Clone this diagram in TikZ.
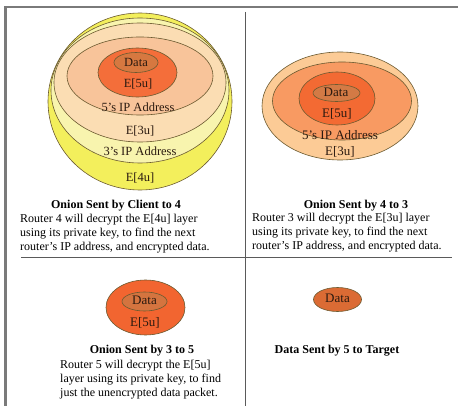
\documentclass[tikz,border=0pt]{standalone}
\usepackage{fontspec}
\setmainfont{Liberation Serif}
\usetikzlibrary{shapes.geometric}
\definecolor{framegray}{HTML}{7A7A7A}
\definecolor{divgray}{HTML}{5A5A5A}
\definecolor{rimcol}{HTML}{6B5A30}
\definecolor{yelA}{HTML}{F3EF5C}
\definecolor{yelB}{HTML}{F8F4AE}
\definecolor{creamC}{HTML}{FBDDB3}
\definecolor{peachD}{HTML}{F8C49A}
\definecolor{orangeE}{HTML}{F46E3A}
\definecolor{dataF}{HTML}{D67840}
\definecolor{rPeach}{HTML}{FCCB96}
\definecolor{rSalmon}{HTML}{F89A62}
\definecolor{rOrange}{HTML}{F36A33}
\definecolor{rData}{HTML}{D37A45}
\definecolor{bOrange}{HTML}{F26530}
\definecolor{bData}{HTML}{D4743F}
\definecolor{tData}{HTML}{DB6B34}
\definecolor{labcol}{HTML}{2B1A10}
\begin{document}
\begin{tikzpicture}[x=1pt,y=-1pt,
  layer/.style={ellipse,draw=rimcol,line width=0.6pt,inner sep=0pt},
  lab/.style={inner sep=0pt,text=labcol,font=\fontsize{12.5}{14}\selectfont},
  rlab/.style={inner sep=0pt,text=labcol,font=\fontsize{13}{14}\selectfont},
  ttl/.style={inner sep=0pt,anchor=base,font=\bfseries\fontsize{12}{14}\selectfont},
  body/.style={inner sep=0pt,anchor=north west,align=left,font=\fontsize{12}{14}\selectfont},
  frameline/.style={draw=framegray,line width=2.2pt},
  divline/.style={draw=divgray,line width=1pt}]
\useasboundingbox (0,0) rectangle (458,406);
% frame and dividers
\coordinate (ftl) at (5.5,7);
\coordinate (ftr) at (458,7);
\coordinate (fbl) at (5.5,406);
\coordinate (vt) at (245,12);
\coordinate (vb) at (245,406);
\coordinate (hl) at (21,257.5);
\coordinate (hr) at (452,257.5);
\draw[frameline] (fbl) -- (ftl) -- (ftr);
\draw[divline] (vt) -- (vb);
\draw[divline] (hl) -- (hr);
% left onion
\node[layer,fill=yelA,minimum width=184pt,minimum height=177pt] (L4) at (140,101.5) {};
\node[layer,fill=yelB,minimum width=178pt,minimum height=145pt] (L3ip) at (140,90.5) {};
\node[layer,fill=creamC,minimum width=172pt,minimum height=119pt] (L3) at (140,82.5) {};
\node[layer,fill=peachD,minimum width=146pt,minimum height=78pt] (L5ip) at (140,76) {};
\node[layer,fill=orangeE,minimum width=79pt,minimum height=49pt] (L5) at (137.5,72.5) {};
\node[layer,fill=dataF,minimum width=44pt,minimum height=20pt] (Ld) at (136,62.5) {};
\node[lab] (Ldt) at (136,62) {Data};
\node[lab] (L5t) at (138,84) {E[5u]};
\node[lab] (L5ipt) at (138,107) {5's IP Address};
\node[lab] (L3t) at (140,131) {E[3u]};
\node[lab] (L3ipt) at (140,151) {3's IP Address};
\node[lab] (L4t) at (140,178) {E[4u]};
% right onion
\node[layer,fill=rPeach,minimum width=156pt,minimum height=108pt] (R3) at (340,106) {};
\node[layer,fill=rSalmon,minimum width=139pt,minimum height=78pt] (R5ip) at (342,101) {};
\node[layer,fill=rOrange,minimum width=76pt,minimum height=53pt] (R5) at (337,98.5) {};
\node[layer,fill=rData,minimum width=47pt,minimum height=17pt] (Rd) at (336.5,93) {};
\node[rlab] (Rdt) at (336,92) {Data};
\node[rlab] (R5t) at (337,114) {E[5u]};
\node[rlab] (R5ipt) at (340,135.5) {5's IP Address};
\node[rlab] (R3t) at (340,152) {E[3u]};
% bottom left onion
\node[layer,fill=bOrange,minimum width=79pt,minimum height=55pt] (B5) at (145.5,307.5) {};
\node[layer,fill=bData,minimum width=45pt,minimum height=19pt] (Bd) at (144.5,301.5) {};
\node[rlab] (Bdt) at (144.5,300) {Data};
\node[rlab] (B5t) at (145,323) {E[5u]};
% bottom right data
\node[layer,fill=tData,minimum width=48pt,minimum height=24pt] (Td) at (337.5,299.5) {};
\node[rlab] (Tdt) at (337.5,298.5) {Data};
% texts
\node[ttl] (t1) at (116,208.5) {Onion Sent by Client to 4};
\node[body] (b1) at (20,213.8) {Router 4 will decrypt the E[4u] layer\\using its private key, to find the next\\router's IP address, and encrypted data.};
\node[ttl] (t2) at (356,208.5) {Onion Sent by 4 to 3};
\node[body] (b2) at (252,213.3) {Router 3 will decrypt the E[3u] layer\\using its private key, to find the next\\router's IP address, and encrypted data.};
\node[ttl] (t3) at (142,353) {Onion Sent by 3 to 5};
\node[body] (b3) at (60,359.8) {Router 5 will decrypt the E[5u]\\layer using its private key, to find\\just the unencrypted data packet.};
\node[ttl] (t4) at (337,353) {Data Sent by 5 to Target};
\end{tikzpicture}
\end{document}
